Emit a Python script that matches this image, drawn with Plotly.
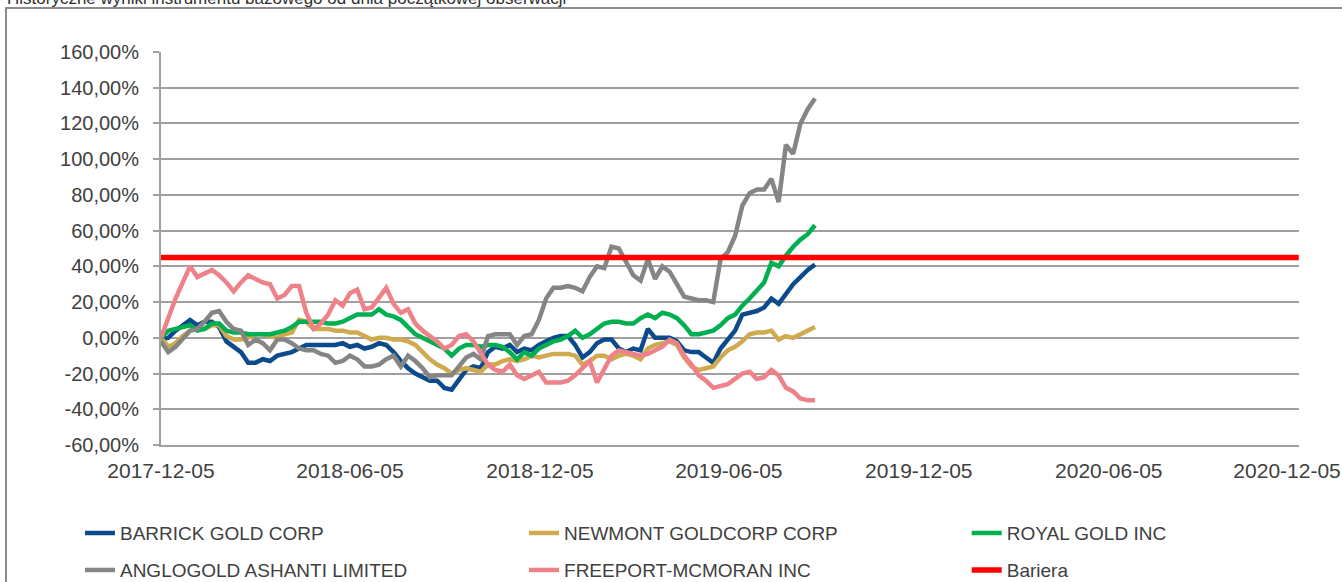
import pandas as pd
import plotly.graph_objects as go

# ---- data (weekly observations, % change vs. initial observation date) ----
start_date = "2017-12-05"
n_obs = 91
dates = pd.date_range(start_date, periods=n_obs, freq="7D")

barrick = [-1, 0, 4, 7, 10, 7, 9, 9, 6, -2, -5, -8, -14, -14, -12, -13, -10, -9, -8, -6,
           -4, -4, -4, -4, -4, -3, -5, -4, -6, -5, -3, -4, -8, -13, -17, -20, -22, -24, -24, -28,
           -29, -23, -18, -16, -17, -8, -5, -6, -4, -8, -6, -7, -4, -2, 0, 1, 1, -4, -11, -8,
           -3, -1, -1, -6, -8, -6, -7, 5, 0, 0, 0, -2, -7, -8, -8, -11, -14, -6, -1, 4,
           13, 14, 15, 17, 22, 19, 25, 30, 34, 38, 41]
newmont = [0, -5, -3, 1, 4, 5, 5, 7, 7, 1, -1, -1, 0, 2, 2, 1, 0, 2, 3, 10,
           9, 5, 5, 5, 4, 4, 3, 3, 1, -1, 0, 0, -1, -1, -2, -4, -8, -12, -15, -17,
           -20, -18, -17, -18, -19, -15, -15, -13, -12, -13, -12, -10, -11, -10, -9, -9, -9, -10, -15, -13,
           -10, -10, -12, -10, -9, -10, -12, -6, -4, -3, -2, -4, -11, -16, -18, -17, -16, -11, -7, -5,
           -2, 2, 3, 3, 4, -1, 1, 0, 2, 4, 6]
royal = [0, 4, 5, 6, 7, 4, 5, 8, 8, 4, 3, 3, 2, 2, 2, 2, 3, 4, 6, 9,
         9, 9, 9, 8, 8, 9, 11, 13, 13, 13, 16, 13, 12, 10, 6, 2, 0, -2, -4, -6,
         -10, -6, -4, -4, -5, -4, -4, -5, -8, -12, -8, -10, -6, -4, -2, -1, 1, 4, 0, 2,
         5, 8, 9, 9, 8, 8, 11, 13, 11, 14, 13, 11, 7, 2, 2, 3, 4, 7, 11, 13,
         18, 22, 27, 31, 42, 40, 46, 51, 55, 58, 63]
anglogold = [-2, -8, -5, 0, 4, 5, 9, 14, 15, 9, 5, 4, -4, -1, -3, -7, -1, -1, -3, -6,
             -7, -7, -9, -10, -14, -13, -10, -12, -16, -16, -15, -12, -10, -16, -10, -13, -17, -22, -21, -21,
             -21, -16, -11, -9, -12, 1, 2, 2, 2, -4, 1, 2, 10, 22, 28, 28, 29, 28, 26, 34,
             40, 39, 51, 50, 42, 35, 32, 44, 33, 40, 37, 30, 23, 22, 21, 21, 20, 44, 48, 57,
             74, 81, 83, 83, 89, 76, 108, 103, 120, 128, 134]
freeport = [0, 11, 22, 31, 40, 34, 36, 38, 35, 31, 26, 31, 35, 33, 31, 30, 22, 24, 29, 29,
            14, 5, 8, 13, 21, 18, 25, 27, 16, 17, 23, 28, 19, 14, 16, 8, 4, 1, -2, -6,
            -4, 1, 2, -2, -8, -15, -18, -19, -15, -21, -23, -21, -19, -25, -25, -25, -24, -21, -17, -13,
            -25, -18, -10, -7, -8, -9, -10, -9, -7, -5, -1, -3, -10, -15, -21, -24, -28, -27, -26, -23,
            -20, -19, -23, -22, -18, -21, -28, -30, -34, -35, -35]

barrier_level = 45
axis_dates = ["2017-12-05", "2018-06-05", "2018-12-05", "2019-06-05",
              "2019-12-05", "2020-06-05", "2020-12-05"]
y_ticks = [-60, -40, -20, 0, 20, 40, 60, 80, 100, 120, 140, 160]

series = [
    ("BARRICK GOLD CORP", barrick, "#0B4A8B", "legend"),
    ("NEWMONT GOLDCORP CORP", newmont, "#CFAA4E", "legend2"),
    ("ROYAL GOLD INC", royal, "#00B050", "legend3"),
    ("ANGLOGOLD ASHANTI LIMITED", anglogold, "#858585", "legend4"),
    ("FREEPORT-MCMORAN INC", freeport, "#EF8188", "legend5"),
]

fig = go.Figure()
for name, vals, color, leg in series:
    fig.add_trace(go.Scatter(x=dates, y=vals, mode="lines", name=name,
                             line=dict(color=color, width=4.5), legend=leg))

fig.add_trace(go.Scatter(x=[axis_dates[0], axis_dates[-1]], y=[barrier_level, barrier_level],
                         mode="lines", name="Bariera", line=dict(color="#FF0000", width=5.5),
                         legend="legend6"))

font_color = "#404040"
legend_font = dict(family="Liberation Sans, Arial, sans-serif", size=19, color=font_color)
col_x = [-0.0712, 0.319, 0.708]
row_y = [-0.176, -0.270]


def leg(ix, iy):
    return dict(orientation="v", x=col_x[ix], y=row_y[iy], xanchor="left", yanchor="top",
                font=legend_font, bgcolor="rgba(0,0,0,0)", itemwidth=30)


# last label is pushed left (as in the source) so that it fits inside the page
x_ticktext = axis_dates[:-1] + [axis_dates[-1] + "\u00a0" * 4]

fig.update_layout(
    width=1342, height=582,
    margin=dict(l=161, r=43, t=52, b=137, autoexpand=False),
    paper_bgcolor="white", plot_bgcolor="white",
    font=dict(family="Liberation Sans, Arial, sans-serif", size=18, color=font_color),
    showlegend=True,
    legend=leg(0, 0), legend2=leg(1, 0), legend3=leg(2, 0),
    legend4=leg(0, 1), legend5=leg(1, 1), legend6=leg(2, 1),
    xaxis=dict(type="date", range=[axis_dates[0], "2020-12-05 06:00"],
               tickvals=axis_dates, ticktext=x_ticktext, ticklabeloverflow="allow",
               showgrid=False, zeroline=False, showline=True, linecolor="#A0A0A0", linewidth=2,
               ticks="", ticklabelstandoff=6, tickfont=dict(size=21, color=font_color)),
    yaxis=dict(range=[-60, 160], tickvals=y_ticks,
               ticktext=[f"{v:.2f}".replace(".", ",") + "%" for v in y_ticks],
               showgrid=True, gridcolor="#A0A0A0", gridwidth=2,
               zeroline=False, showline=True, linecolor="#A0A0A0", linewidth=2,
               ticks="outside", ticklen=6, tickcolor="#A0A0A0", tickwidth=2,
               ticklabelstandoff=10, tickfont=dict(size=20, color=font_color)),
    shapes=[dict(type="rect", xref="paper", yref="paper",
                 x0=-0.1362, x1=1.05, y0=-0.40, y1=1.112,
                 line=dict(color="#8C8C8C", width=2), fillcolor="rgba(0,0,0,0)", layer="below")],
    annotations=[dict(text="Historyczne wyniki instrumentu bazowego od dnia początkowej obserwacji",
                      xref="paper", yref="paper", x=-0.1375, y=1.108, xanchor="left", yanchor="bottom",
                      showarrow=False, font=dict(size=17, color="#303030"))],
)

fig.write_html("out.html", config={"displayModeBar": False},
               post_script="document.body.style.margin='0';document.body.style.overflow='hidden';")
